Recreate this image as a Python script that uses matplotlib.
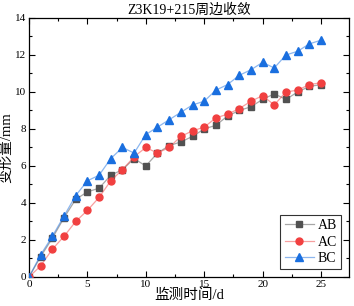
import matplotlib
matplotlib.use("Agg")
import matplotlib.pyplot as plt
from matplotlib.ticker import MultipleLocator
from matplotlib.colors import to_rgba

days = list(range(0, 26))
ab = [0, 1.1, 2.1, 3.2, 4.2, 4.6, 4.8, 5.5, 5.8, 6.4, 6.0, 6.7, 7.1, 7.3, 7.6, 8.0,
      8.2, 8.7, 9.0, 9.2, 9.6, 9.9, 9.6, 10.0, 10.3, 10.4]
ac = [0, 0.6, 1.5, 2.2, 3.0, 3.6, 4.3, 5.2, 5.8, 6.5, 7.0, 6.7, 7.0, 7.6, 7.9, 8.1,
      8.6, 8.8, 9.1, 9.5, 9.8, 9.3, 10.0, 10.1, 10.4, 10.5]
bc = [0, 1.2, 2.2, 3.3, 4.4, 5.2, 5.5, 6.4, 7.0, 6.7, 7.7, 8.1, 8.5, 8.9, 9.3, 9.5,
      10.1, 10.4, 10.9, 11.2, 11.6, 11.3, 12.0, 12.2, 12.6, 12.8]
labels = ["AB", "AC", "BC"]
title = "Z3K19+215周边收敛"
xlabel = "监测时间/d"
ylabel = "变形量/mm"

serif = ["Liberation Serif", "Noto Sans CJK SC"]
plt.rcParams["font.family"] = serif

fig = plt.figure(figsize=(3.54, 3.06), dpi=100)
ax = fig.add_axes([0.0819, 0.0948, 0.9040, 0.8464])

specs = [
    (ab, "#515151", "s", 4.3),
    (ac, "#F14040", "o", 5.0),
    (bc, "#1A6FDF", "^", 5.5),
]
for (vals, col, mk, ms), lab in zip(specs, labels):
    lc = to_rgba(col, 0.5)
    ax.plot(days, vals, color=lc, lw=0.9, marker=mk, ms=ms, mfc=col, mec=col,
            zorder=3, label=lab)

leg = ax.legend(loc="lower right", frameon=True, fancybox=False, edgecolor="black",
                fontsize=10, handlelength=2.1, borderpad=0.3, labelspacing=0.25,
                handletextpad=0.3, borderaxespad=0.55)
leg.get_frame().set_linewidth(0.8)

ax.set_xlim(0, 27.4)
ax.set_ylim(0, 14)
ax.xaxis.set_major_locator(MultipleLocator(5))
ax.xaxis.set_minor_locator(MultipleLocator(2.5))
ax.yaxis.set_major_locator(MultipleLocator(2))
ax.yaxis.set_minor_locator(MultipleLocator(1))
ax.tick_params(which="both", direction="in", top=True, right=True,
               labelsize=8, width=0.8, pad=2)
ax.tick_params(which="major", length=4)
ax.tick_params(which="minor", length=2)
for s in ax.spines.values():
    s.set_linewidth(0.9)

ax.set_title(title, fontsize=10, pad=3)
ax.set_xlabel(xlabel, fontsize=10.5, labelpad=0)
ax.set_ylabel(ylabel, fontsize=10.5, labelpad=1)

fig.savefig("out.png", dpi=100)
